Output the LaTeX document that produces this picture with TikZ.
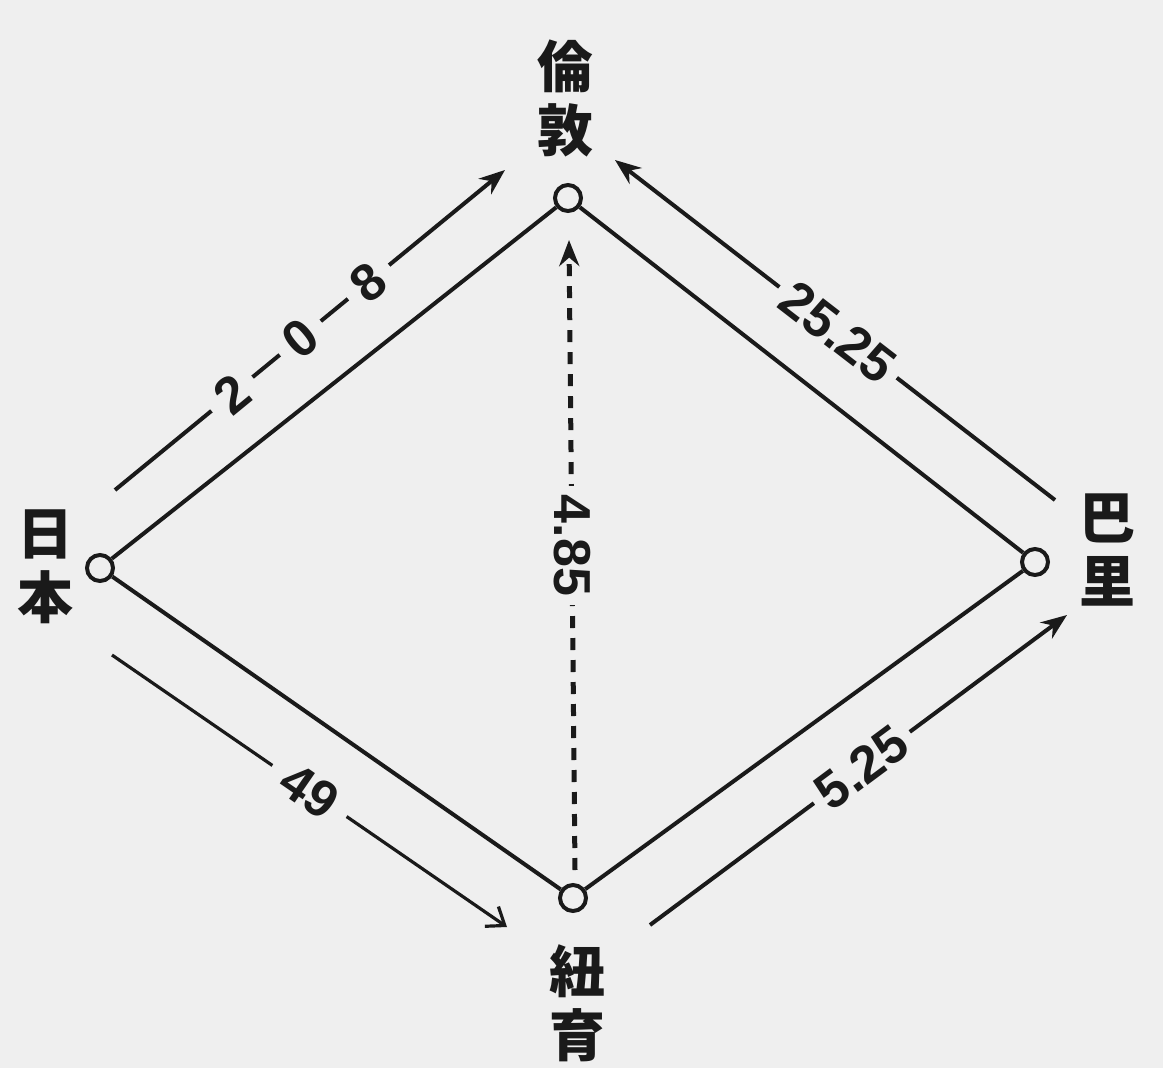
\documentclass[tikz,border=0pt]{standalone}
\usepackage{fontspec}
\setmainfont{Liberation Sans}
\newfontfamily\cjk{Noto Sans CJK JP}
\usetikzlibrary{arrows.meta}
\definecolor{bg}{HTML}{EFEFEF}
\definecolor{ink}{HTML}{1A1A1A}
\begin{document}
\begin{tikzpicture}[x=1pt,y=-1pt,
  station/.style={circle,draw=ink,line width=4pt,minimum size=26pt,inner sep=0pt,fill=bg},
  edge/.style={draw=ink,line width=4pt},
  flow/.style={draw=ink,line width=4pt,-{Stealth[length=26pt,width=20pt]}},
  thinflow/.style={draw=ink,line width=3.2pt,-{Straight Barb[length=16pt,width=24pt,line width=3.2pt]}},
  place/.style={font=\cjk\bfseries\fontsize{56}{64}\selectfont,align=center,text=ink,inner sep=0pt},
  num/.style={font=\bfseries\fontsize{52}{52}\selectfont,fill=bg,text=ink,inner xsep=9pt,inner ysep=1pt}]
\fill[bg] (0,0) rectangle (1163,1068);
\useasboundingbox (0,0) rectangle (1163,1068);

% stations
\node[station] (J) at (100,568) {};
\node[station] (L) at (568,198) {};
\node[station] (P) at (1035,562) {};
\node[station] (N) at (573,898) {};

% place names
\node[place] (tL) at (565,98) {倫\\敦};
\node[place] (tJ) at (45,567) {日\\本};
\node[place] (tP) at (1107,550) {巴\\里};
\node[place] (tN) at (577,1003) {紐\\育};

% edges
\draw[edge] (J) -- (L);
\draw[edge] (L) -- (P);
\draw[edge] (P) -- (N);
\draw[edge] (N) -- (J);

% flow arrows
\coordinate (j1) at (115,490);
\coordinate (l1) at (505,170);
\draw[flow] (j1) -- (l1)
  node[num,sloped,pos=0.30,inner xsep=12pt] (n2) {2}
  node[num,sloped,pos=0.475,inner xsep=12pt] (n0) {0}
  node[num,sloped,pos=0.65,inner xsep=12pt] (n8) {8};

\coordinate (p1) at (1055,500);
\coordinate (l2) at (615,160);
\draw[flow] (p1) -- (l2) node[num,sloped,pos=0.493] (lab2525) {25.25};

\coordinate (ns) at (575,870);
\coordinate (lv) at (569,240);
\draw[flow,line width=5pt,dash pattern=on 12pt off 10pt] (ns) -- (lv)
  node[num,rotate=-90,pos=0.515] (lab485) {4.85};

\coordinate (j2) at (112,655);
\coordinate (n1) at (507,927);
\draw[thinflow] (j2) -- (n1) node[num,sloped,pos=0.50,inner xsep=16pt] (lab49) {49};

\coordinate (n2s) at (650,925);
\coordinate (p2) at (1067,615);
\draw[flow] (n2s) -- (p2) node[num,sloped,pos=0.508] (lab525) {5.25};
\end{tikzpicture}
\end{document}
